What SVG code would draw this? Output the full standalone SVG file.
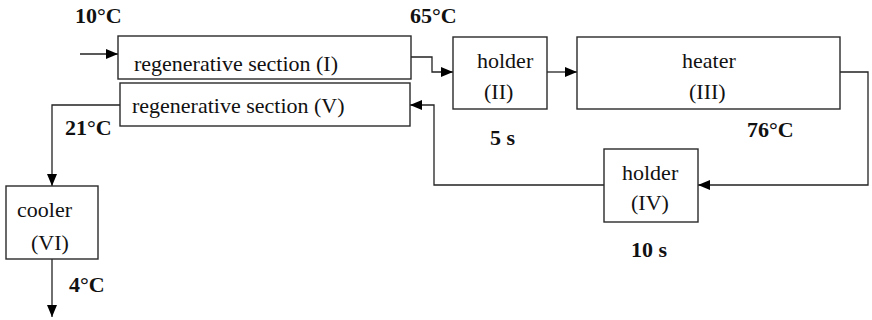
<svg xmlns="http://www.w3.org/2000/svg" width="872" height="320" viewBox="0 0 872 320">
  <style>
    .box { fill: #ffffff; stroke: #2a2a2a; stroke-width: 1.4; }
    .lbl { font-family: "Liberation Serif", "Times New Roman", serif; font-size: 22px; fill: #111; }
    .val { font-family: "Liberation Serif", "Times New Roman", serif; font-size: 22px; font-weight: bold; fill: #111; }
    .wire { fill: none; stroke: #222; stroke-width: 1.3; }
  </style>
  <defs>
    <marker id="arrow" viewBox="0 0 12 10" refX="12" refY="5" markerWidth="12" markerHeight="10" markerUnits="userSpaceOnUse" orient="auto">
      <path d="M0,0 L12,5 L0,10 Z" fill="#000"/>
    </marker>
  </defs>

  <rect width="872" height="320" fill="#ffffff"/>

  <!-- flow lines between the stages -->
  <g id="connectors">
    <path class="wire" d="M80,54 H118" marker-end="url(#arrow)"/>
    <path class="wire" d="M411,57 H432 V72 H453" marker-end="url(#arrow)"/>
    <path class="wire" d="M547,72 H577" marker-end="url(#arrow)"/>
    <path class="wire" d="M840,72 H868 V185 H698" marker-end="url(#arrow)"/>
    <path class="wire" d="M604,185 H434 V105 H410" marker-end="url(#arrow)"/>
    <path class="wire" d="M120,105 H52 V186" marker-end="url(#arrow)"/>
    <path class="wire" d="M52,259 V317" marker-end="url(#arrow)"/>
  </g>

  <g id="regen-I">
    <rect class="box" x="118" y="36" width="293" height="43"/>
    <text class="lbl" x="134" y="71">regenerative section (I)</text>
  </g>
  <g id="regen-V">
    <rect class="box" x="120" y="83" width="290" height="43"/>
    <text class="lbl" x="132" y="113">regenerative section (V)</text>
  </g>
  <g id="holder-II">
    <rect class="box" x="453" y="37" width="94" height="72"/>
    <text class="lbl" x="477" y="68">holder</text>
    <text class="lbl" x="484" y="99">(II)</text>
  </g>
  <g id="heater-III">
    <rect class="box" x="577" y="37" width="263" height="72"/>
    <text class="lbl" x="682" y="68">heater</text>
    <text class="lbl" x="689" y="99">(III)</text>
  </g>
  <g id="holder-IV">
    <rect class="box" x="604" y="149" width="94" height="73"/>
    <text class="lbl" x="622" y="180">holder</text>
    <text class="lbl" x="631" y="210">(IV)</text>
  </g>
  <g id="cooler-VI">
    <rect class="box" x="6" y="186" width="92" height="73"/>
    <text class="lbl" x="17" y="217">cooler</text>
    <text class="lbl" x="31" y="250">(VI)</text>
  </g>

  <!-- temperatures and holding times -->
  <g id="values">
    <text class="val" x="75" y="23">10°C</text>
    <text class="val" x="410" y="23">65°C</text>
    <text class="val" x="747" y="137">76°C</text>
    <text class="val" x="490" y="145">5 s</text>
    <text class="val" x="631" y="257">10 s</text>
    <text class="val" x="65" y="135">21°C</text>
    <text class="val" x="69" y="292">4°C</text>
  </g>
</svg>
